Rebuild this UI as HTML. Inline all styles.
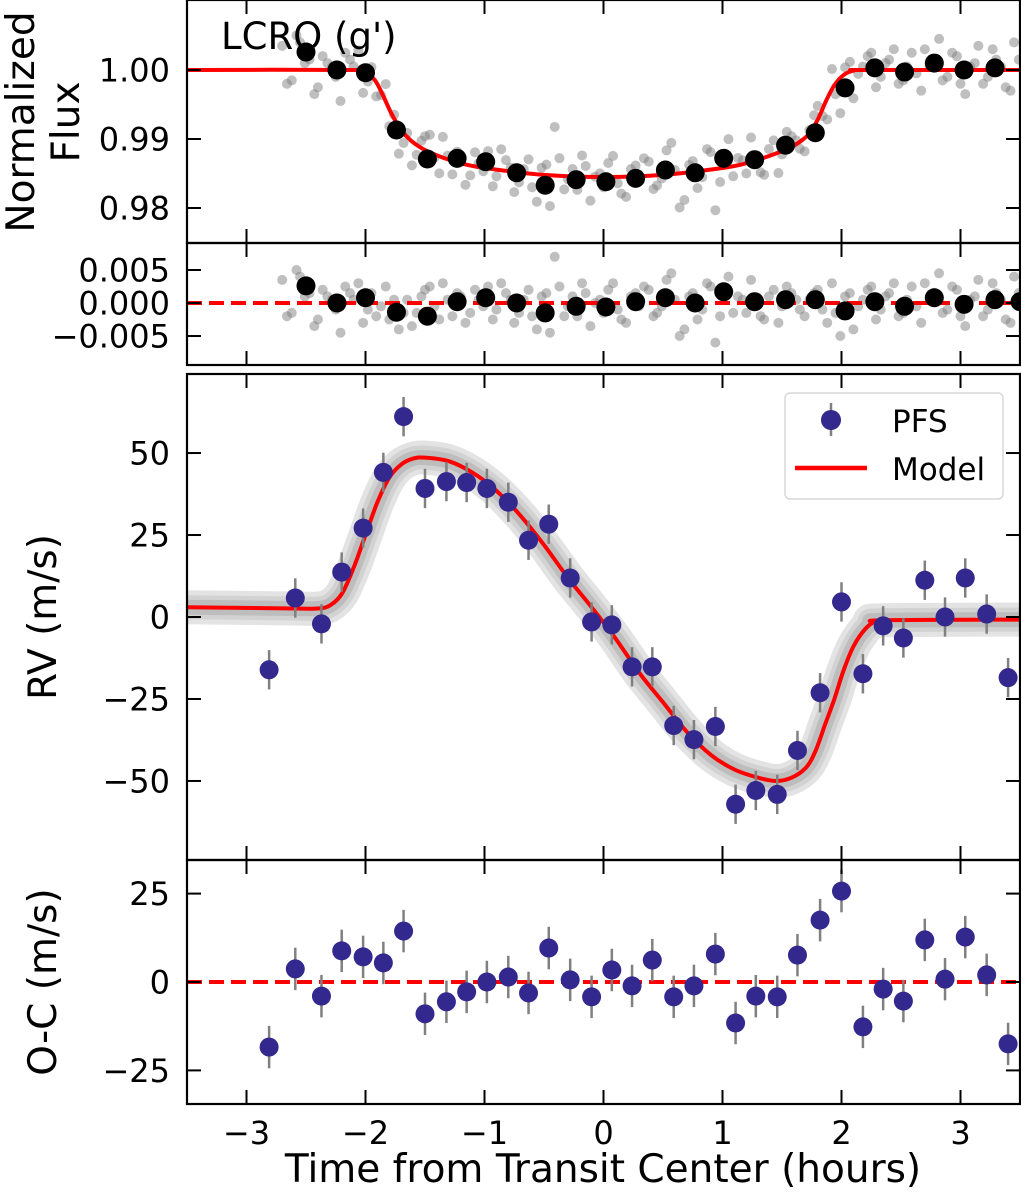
<!DOCTYPE html>
<html><head><meta charset="utf-8">
<style>
html,body{margin:0;padding:0;background:#fff;}
svg{display:block;font-family:"DejaVu Sans","Liberation Sans",sans-serif;}
</style></head>
<body>
<svg id="chart" width="1021" height="1200" viewBox="0 0 1021 1200" xmlns="http://www.w3.org/2000/svg"></svg>
<script>
// ---- Data ----
const obsTimes = [-2.70,-2.62,-2.55,-2.47,-2.40,-2.32,-2.25,-2.17,-2.10,-2.02,-1.95,-1.87,-1.80,-1.72,-1.65,-1.57,-1.50,-1.42,-1.35,-1.27,-1.20,-1.12,-1.05,-0.97,-0.90,-0.82,-0.75,-0.67,-0.60,-0.52,-0.45,-0.37,-0.30,-0.22,-0.15,-0.07,0.00,0.08,0.15,0.23,0.30,0.38,0.45,0.53,0.60,0.68,0.75,0.83,0.90,0.98,1.05,1.13,1.20,1.28,1.35,1.43,1.50,1.58,1.65,1.73,1.80,1.88,1.95,2.03,2.10,2.18,2.25,2.33,2.40,2.48,2.55,2.63,2.70,2.78,2.85,2.93,3.00,3.08,3.15,3.23,3.30,3.38,3.45];
const obsResid = [3.5,-1.5,4.0,1.5,-2.5,1.0,-1.0,2.5,0.5,-3.0,1.5,-0.5,-2.5,-4.0,0.5,-1.5,2.0,-0.5,3.0,-2.0,1.0,-1.5,0.5,2.5,-1.0,1.5,-3.0,0.5,-2.0,1.0,-4.5,2.5,-0.5,-2.0,1.5,0.0,-1.5,3.0,-2.5,1.0,-0.5,2.0,-1.5,3.5,0.5,-4.0,1.5,-1.0,2.5,-2.0,4.0,1.0,-1.5,0.5,-2.5,2.0,-0.5,1.5,-1.0,0.5,2.0,-3.0,-1.5,1.0,-4.0,0.5,2.5,-1.0,1.5,-2.0,0.5,-0.5,3.0,1.5,-1.5,2.5,-2.0,0.5,3.5,-1.0,1.5,-2.5,4.0];
const obsTimes2 = [-2.66,-2.58,-2.51,-2.43,-2.36,-2.28,-2.21,-2.13,-2.06,-1.98,-1.91,-1.83,-1.76,-1.68,-1.61,-1.53,-1.46,-1.38,-1.31,-1.23,-1.16,-1.08,-1.01,-0.93,-0.86,-0.78,-0.71,-0.63,-0.56,-0.48,-0.41,-0.33,-0.26,-0.18,-0.11,-0.03,0.04,0.12,0.19,0.27,0.34,0.42,0.49,0.57,0.64,0.72,0.79,0.87,0.94,1.02,1.09,1.17,1.24,1.32,1.39,1.47,1.54,1.62,1.69,1.77,1.84,1.92,1.99,2.07,2.14,2.22,2.29,2.37,2.44,2.52,2.59,2.67,2.74,2.82,2.89,2.97,3.04,3.12,3.19,3.27,3.34,3.42,3.49];
const obsResid2 = [-2.0,5.0,1.0,-3.5,2.0,0.5,-4.5,1.5,3.0,-1.0,-2.0,2.5,0.5,-1.5,-3.5,1.0,2.5,-2.5,0.5,1.5,-3.0,2.0,-0.5,-2.5,3.0,0.5,-1.5,2.0,-4.0,1.5,7.0,-2.0,1.0,3.0,-3.5,0.5,2.0,-1.0,-3.0,1.5,2.5,-2.0,-0.5,4.5,-5.0,1.0,-2.5,3.0,-6.0,2.0,-1.5,0.5,3.5,-2.0,1.0,-3.0,2.5,0.5,-2.0,1.5,-1.0,3.0,-5.0,1.5,-0.5,2.0,-2.5,1.0,3.0,-1.5,2.5,-3.0,0.5,4.5,-1.0,2.0,-3.5,1.0,-2.0,3.0,0.5,-3.0,1.5];
const binTimes = [-2.50,-2.24,-2.00,-1.74,-1.48,-1.23,-0.99,-0.73,-0.49,-0.23,0.02,0.27,0.52,0.77,1.01,1.27,1.53,1.78,2.03,2.28,2.53,2.78,3.03,3.29];
const binFlux = [1.0026,1.0000,0.9996,0.9913,0.9871,0.9872,0.9867,0.9851,0.9833,0.9841,0.9838,0.9843,0.9855,0.9851,0.9872,0.9870,0.9891,0.9909,0.9974,1.0003,0.9997,1.0010,1.0000,1.0003];
const binResTimes = [-2.50,-2.24,-2.00,-1.74,-1.48,-1.23,-0.99,-0.73,-0.49,-0.23,0.02,0.27,0.52,0.77,1.01,1.27,1.53,1.78,2.03,2.28,2.53,2.78,3.03,3.29,3.50];
const binResid = [0.0026,0.0000,0.0008,-0.0014,-0.0020,0.0002,0.0008,0.0000,-0.0015,-0.0005,-0.0006,0.0002,0.0008,0.0000,0.0017,0.0002,0.0005,0.0005,-0.0012,0.0002,-0.0005,0.0008,-0.0002,0.0005,0.0002];
const transitT = [-3.5,-2.10,-2.00,-1.92,-1.85,-1.78,-1.70,-1.62,-1.50,-1.35,-1.20,-1.00,-0.50,0.00,0.50,1.00,1.20,1.40,1.55,1.65,1.73,1.80,1.87,1.94,2.02,2.10,2.20,3.5];
const transitF = [1,1,0.9996,0.9985,0.9962,0.9936,0.9913,0.9898,0.9884,0.9873,0.9865,0.9858,0.9848,0.9845,0.9848,0.9858,0.9865,0.9876,0.9886,0.9896,0.9908,0.9928,0.9955,0.9978,0.9993,0.9999,1,1];
const rvTimes = [-2.81,-2.59,-2.37,-2.20,-2.02,-1.85,-1.68,-1.50,-1.32,-1.15,-0.98,-0.80,-0.63,-0.46,-0.28,-0.10,0.07,0.24,0.41,0.59,0.76,0.94,1.11,1.28,1.46,1.63,1.82,2.00,2.18,2.35,2.52,2.70,2.87,3.04,3.22,3.40];
const rvValues = [-16.1,5.8,-2.1,13.7,27.1,44.1,61.1,39.2,41.3,41.0,39.2,35.0,23.4,28.3,11.9,-1.5,-2.4,-15.2,-15.2,-33.1,-37.4,-33.4,-57.1,-52.9,-54.1,-40.7,-23.1,4.6,-17.3,-2.7,-6.4,11.2,0.0,11.9,0.9,-18.5];
const ocValues = [-18.4,3.7,-4.0,8.8,7.1,5.4,14.4,-9.0,-5.6,-2.8,0.0,1.4,-3.1,9.6,0.6,-4.2,3.4,-1.1,6.2,-4.2,-1.1,7.9,-11.6,-4.0,-4.2,7.6,17.5,25.7,-12.7,-2.0,-5.4,11.9,0.8,12.7,2.0,-17.5];
const rvErr = 6;
const rvModelT = [-3.5,-2.6,-2.4,-2.3,-2.2,-2.1,-2.0,-1.9,-1.8,-1.7,-1.6,-1.5,-1.3,-1.1,-0.9,-0.7,-0.5,-0.3,-0.1,0.1,0.3,0.5,0.7,0.9,1.1,1.3,1.45,1.58,1.7,1.78,1.86,1.94,2.02,2.1,2.18,2.26,2.35,3.5];
const rvModelV = [3,2.6,2.6,3.5,7,15,25,35,42.5,46.5,48.3,48.6,47.5,44,38.5,31,22,12,3,-6.5,-17,-26,-35,-42,-46.5,-49,-50,-49,-46,-41,-33,-25,-16,-9,-4.5,-1.8,-1,-0.8];
const xTicks = [-3,-2,-1,0,1,2,3];
const fluxTicks = [0.98,0.99,1.00];
const fluxTickLabels = ["0.98","0.99","1.00"];
const residTicks = [-0.005,0,0.005];
const residTickLabels = ["\u22120.005","0.000","0.005"];
const rvTicks = [-50,-25,0,25,50];
const rvTickLabels = ["\u221250","\u221225","0","25","50"];
const ocTicks = [-25,0,25];
const ocTickLabels = ["\u221225","0","25"];
const xTickLabels = ["\u22123","\u22122","\u22121","0","1","2","3"];

// ---- Layout ----
const NS = "http://www.w3.org/2000/svg";
const svg = document.getElementById('chart');
const X0 = 187, X1 = 1020, TMIN = -3.5, TMAX = 3.5;
function xs(t){ return X0 + (t - TMIN) / (TMAX - TMIN) * (X1 - X0); }
function mkY(top, bot, vmax, vmin){ return v => top + (vmax - v) / (vmax - vmin) * (bot - top); }
const panels = {
  flux: {top:0, bot:243, y: mkY(0,243,1.01014,0.97493)},
  resid: {top:243, bot:365, y: mkY(243,365,0.00909,-0.00939)},
  rv: {top:374, bot:860, y: mkY(374,860,74.1,-74.1)},
  oc: {top:860, bot:1104, y: mkY(860,1104,34.5,-34.5)}
};
function el(tag, attrs, parent){
  const e = document.createElementNS(NS, tag);
  for (const k in attrs) e.setAttribute(k, attrs[k]);
  (parent || svg).appendChild(e);
  return e;
}
const defs = el('defs', {});
['flux','resid','rv','oc'].forEach(k => { const c = document.createElementNS(NS,'clipPath'); c.setAttribute('id','clip-'+k); const r = document.createElementNS(NS,'rect'); r.setAttribute('x',X0); r.setAttribute('y',panels[k].top); r.setAttribute('width',X1-X0); r.setAttribute('height',panels[k].bot-panels[k].top); c.appendChild(r); defs.appendChild(c); });

function interp(T, V, t){
  for (let i=0;i<T.length-1;i++){ if (t>=T[i] && t<=T[i+1]) { const f=(t-T[i])/(T[i+1]-T[i]); return V[i]+f*(V[i+1]-V[i]); } }
  return t < T[0] ? V[0] : V[V.length-1];
}
function smoothPath(pts){
  let d = 'M' + pts[0][0].toFixed(1) + ',' + pts[0][1].toFixed(1);
  for (let i=0;i<pts.length-1;i++){
    const p0 = pts[Math.max(0,i-1)], p1 = pts[i], p2 = pts[i+1], p3 = pts[Math.min(pts.length-1,i+2)];
    const c1 = [p1[0]+(p2[0]-p0[0])/6, p1[1]+(p2[1]-p0[1])/6];
    const c2 = [p2[0]-(p3[0]-p1[0])/6, p2[1]-(p3[1]-p1[1])/6];
    d += ' C' + c1[0].toFixed(1)+','+c1[1].toFixed(1)+' '+c2[0].toFixed(1)+','+c2[1].toFixed(1)+' '+p2[0].toFixed(1)+','+p2[1].toFixed(1);
  }
  return d;
}

// ---- Panel 1: flux ----
const gFlux = el('g', {'clip-path':'url(#clip-flux)'});


const gRes = el('g', {'clip-path':'url(#clip-resid)'});


function drawObs(T, R){
  const n = Math.min(T.length, R.length);
  for (let i=0;i<n;i++){
    const f = interp(transitT, transitF, T[i]) + R[i]/1000;
    const c = el('circle', {cx:xs(T[i]), cy:panels.flux.y(f), r:5, fill:'#808080', 'fill-opacity':0.5}, gFlux);
    
    
    const c2 = el('circle', {cx:xs(T[i]), cy:panels.resid.y(R[i]/1000), r:5, fill:'#808080', 'fill-opacity':0.5}, gRes);
    
    
  }
}
drawObs(obsTimes, obsResid);
drawObs(obsTimes2, obsResid2);
const tPath = el('path', {d: smoothPath(transitT.map((t,i)=>[xs(t), panels.flux.y(transitF[i])])), fill:'none', stroke:'#ff0000', 'stroke-width':4}, gFlux);


for (let i=0;i<binTimes.length;i++){
  const c = el('circle', {cx:xs(binTimes[i]), cy:panels.flux.y(binFlux[i]), r:9.5, fill:'#000'}, gFlux);
  
  
}

// ---- Panel 2: residuals ----
const z1 = el('line', {x1:X0, x2:X1, y1:panels.resid.y(0), y2:panels.resid.y(0), stroke:'#ff0000', 'stroke-width':4, 'stroke-dasharray':'15,7'}, gRes);


for (let i=0;i<binResTimes.length;i++){
  const c = el('circle', {cx:xs(binResTimes[i]), cy:panels.resid.y(binResid[i]), r:9.5, fill:'#000'}, gRes);
  
  
}

// ---- Panel 3: RV ----
const gRv = el('g', {'clip-path':'url(#clip-rv)'});


const rvD = smoothPath(rvModelT.map((t,i)=>[xs(t), panels.rv.y(rvModelV[i])]));
[[34,'#e3e3e3'],[24,'#d2d2d2'],[15,'#bdbdbd']].forEach(([w,col])=>{
  const b = el('path', {d:rvD, fill:'none', stroke:col, 'stroke-width':w, 'stroke-linejoin':'round'}, gRv);
  
  
});
const rvLine = el('path', {d:rvD, fill:'none', stroke:'#ff0000', 'stroke-width':4}, gRv);


for (let i=0;i<rvTimes.length;i++){
  const x = xs(rvTimes[i]);
  const e = el('line', {x1:x, x2:x, y1:panels.rv.y(rvValues[i]+rvErr), y2:panels.rv.y(rvValues[i]-rvErr), stroke:'#808080', 'stroke-width':2.5}, gRv);
  
  
  const c = el('circle', {cx:x, cy:panels.rv.y(rvValues[i]), r:9.5, fill:'#33288d'}, gRv);
  
  
}

// ---- Panel 4: O-C ----
const gOc = el('g', {'clip-path':'url(#clip-oc)'});


const z2 = el('line', {x1:X0, x2:X1, y1:panels.oc.y(0), y2:panels.oc.y(0), stroke:'#ff0000', 'stroke-width':4, 'stroke-dasharray':'15,7'}, gOc);


for (let i=0;i<rvTimes.length;i++){
  const x = xs(rvTimes[i]);
  const e = el('line', {x1:x, x2:x, y1:panels.oc.y(ocValues[i]+rvErr), y2:panels.oc.y(ocValues[i]-rvErr), stroke:'#808080', 'stroke-width':2.5}, gOc);
  
  
  const c = el('circle', {cx:x, cy:panels.oc.y(ocValues[i]), r:9.5, fill:'#33288d'}, gOc);
  
  
}

// ---- Axes frames, ticks, labels ----
function axes(p, yt, ytl, name, showX){
  const g = el('g', {});
  
  
  const fr = el('rect', {x:X0, y:p.top, width:X1-X0, height:p.bot-p.top, fill:'none', stroke:'#000', 'stroke-width':2.2}, g);
  
  
  const L = 14;
  xTicks.forEach((t,i)=>{
    const x = xs(t);
    el('line', {x1:x, x2:x, y1:p.bot, y2:p.bot-L, stroke:'#000', 'stroke-width':2}, g);
    el('line', {x1:x, x2:x, y1:p.top, y2:p.top+L, stroke:'#000', 'stroke-width':2}, g);
    if (showX){
      const tx = el('text', {x:x, y:p.bot+40, 'font-size':32, 'text-anchor':'middle', fill:'#000'}, g);
      tx.textContent = xTickLabels[i];
      
      
    }
  });
  yt.forEach((v,i)=>{
    const y = p.y(v);
    el('line', {x1:X0, x2:X0+L, y1:y, y2:y, stroke:'#000', 'stroke-width':2}, g);
    el('line', {x1:X1, x2:X1-L, y1:y, y2:y, stroke:'#000', 'stroke-width':2}, g);
    const tx = el('text', {x:170, y:y+11.5, 'font-size':32, 'text-anchor':'end', fill:'#000'}, g);
    tx.textContent = ytl[i];
    
    
  });
}
axes(panels.flux, fluxTicks, fluxTickLabels, 'flux', false);
axes(panels.resid, residTicks, residTickLabels, 'flux-residual', false);
axes(panels.rv, rvTicks, rvTickLabels, 'rv', false);
axes(panels.oc, ocTicks, ocTickLabels, 'oc', true);

function txt(s, attrs, name){
  const t = el('text', attrs);
  t.textContent = s;
  
  
  return t;
}
txt("LCRO (g')", {x:221, y:49, 'font-size':37, fill:'#000'}, 'panel-title');
txt("Normalized", {x:0, y:0, 'font-size':39, 'text-anchor':'middle', transform:'translate(34,122) rotate(-90)'}, 'flux-y-axis-title');
txt("Flux", {x:0, y:0, 'font-size':39, 'text-anchor':'middle', transform:'translate(79,122) rotate(-90)'}, 'flux-y-axis-title-line2');
txt("RV (m/s)", {x:0, y:0, 'font-size':39, 'text-anchor':'middle', transform:'translate(56,617) rotate(-90)'}, 'rv-y-axis-title');
txt("O-C (m/s)", {x:0, y:0, 'font-size':39, 'text-anchor':'middle', transform:'translate(56,982) rotate(-90)'}, 'oc-y-axis-title');
txt("Time from Transit Center (hours)", {x:603, y:1182, 'font-size':39, 'text-anchor':'middle'}, 'x-axis-title');

// ---- Legend ----
const lg = el('g', {});


el('rect', {x:785, y:393, width:218, height:106, rx:5, fill:'#fff', 'fill-opacity':0.85, stroke:'#d8d8d8', 'stroke-width':1.5}, lg);
const le1 = el('g', {}, lg);


el('line', {x1:831, x2:831, y1:403, y2:436, stroke:'#808080', 'stroke-width':2.5}, le1);
el('circle', {cx:831, cy:420, r:10, fill:'#33288d'}, le1);
const t1 = el('text', {x:892, y:432, 'font-size':31}, le1); t1.textContent = 'PFS';
const le2 = el('g', {}, lg);


el('line', {x1:795, x2:867, y1:468, y2:468, stroke:'#ff0000', 'stroke-width':4.5}, le2);
const t2 = el('text', {x:892, y:480, 'font-size':31}, le2); t2.textContent = 'Model';
</script>
</body></html>
